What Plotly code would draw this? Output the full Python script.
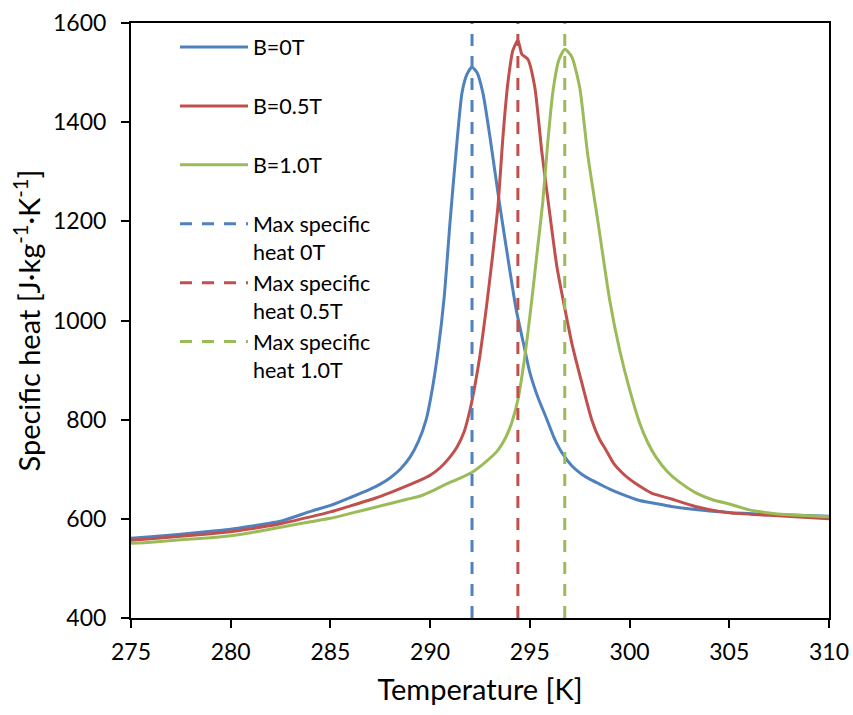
import plotly.graph_objects as go

# ---- data ----
t_b0 = [275, 276, 277.5, 279, 280, 281, 282.5, 284, 285, 286, 287, 287.5, 288, 288.5, 289, 289.4,
        289.8, 290.1, 290.4, 290.7, 291.0, 291.3, 291.6, 291.85, 292.1, 292.35, 292.65, 293.0,
        293.5, 294.0, 294.3, 294.7, 295.0, 295.45, 295.8, 296.2, 296.6, 297.1, 297.6, 298.0,
        298.5, 299.0, 299.6, 300.5, 301.3, 302.1, 303.3, 305, 307, 310]
cp_b0 = [561, 564, 569, 575, 579, 585, 595, 615, 627, 643, 660, 670, 683, 700, 725, 755,
         800, 860, 940, 1045, 1200, 1340, 1460, 1497, 1511, 1500, 1458, 1370,
         1230, 1100, 1025, 950, 895, 840, 806, 765, 734, 707, 690, 680,
         670, 660, 650, 637, 631, 625, 619, 613, 609, 605]

t_b05 = [275, 276, 277.5, 279, 280, 281, 282.5, 284, 285, 286, 287.2, 288, 288.8, 289.5, 290.0,
         290.5, 291.0, 291.35, 291.7, 292.0, 292.25, 292.5, 292.8, 293.1, 293.4, 293.65, 293.9,
         294.15, 294.4, 294.6, 294.9, 295.25, 295.6, 296.0, 296.35, 296.7, 297.1, 297.6, 298.1,
         298.5, 298.8, 299.2, 299.6, 300.0, 300.5, 301.1, 302.1, 303.3, 305, 307, 310]
cp_b05 = [557, 560, 565, 570, 574, 580, 590, 604, 614, 626, 641, 653, 666, 678, 688,
          703, 725, 745, 775, 820, 870, 930, 1020, 1120, 1230, 1370, 1480,
          1545, 1565, 1537, 1527, 1470, 1340, 1215, 1110, 1035, 955, 875, 800,
          760, 740, 712, 694, 680, 666, 652, 640, 625, 612, 607, 600]

t_b10 = [275, 276, 277.5, 279, 280, 281, 282.5, 284, 285, 286, 287.2, 288, 288.8, 289.5, 290.2,
         290.8, 291.5, 292.1, 292.7, 293.35, 293.8, 294.1, 294.4, 294.65, 294.9, 295.15, 295.4,
         295.65, 295.9, 296.15, 296.45, 296.75, 297.1, 297.5, 297.9, 298.4, 299.0, 299.5, 300.0,
         300.5, 300.9, 301.3, 301.9, 302.5, 303.3, 304.2, 305, 306, 306.8, 308, 310]
cp_b10 = [551, 553, 558, 562, 566, 572, 583, 594, 601, 611, 623, 631, 639, 646, 658,
          670, 682, 694, 712, 736, 765, 795, 840, 900, 975, 1060, 1150,
          1240, 1360, 1460, 1525, 1547, 1532, 1470, 1335, 1203, 1042, 941, 861,
          794, 755, 726, 695, 674, 653, 638, 630, 618, 613, 608, 604]

t_max = [292.1, 294.4, 296.75]
cp_range = [400, 1600]

names_solid = ["B=0T", "B=0.5T", "B=1.0T"]
names_dash = ["Max specific<br>heat 0T", "Max specific<br>heat 0.5T", "Max specific<br>heat 1.0T"]
colors = ["#4F81BD", "#C0504D", "#9BBB59"]

FONT = "Lato"

fig = go.Figure()
for i, (t, cp) in enumerate([(t_b0, cp_b0), (t_b05, cp_b05), (t_b10, cp_b10)]):
    fig.add_trace(go.Scatter(
        x=t, y=cp, mode="lines", name=names_solid[i] + "<br>&nbsp;",
        line=dict(color=colors[i], width=3, shape="spline", smoothing=0.6),
    ))
for i in range(3):
    fig.add_trace(go.Scatter(
        x=[t_max[i], t_max[i]], y=cp_range, mode="lines", name=names_dash[i],
        line=dict(color=colors[i], width=3, dash="12px,10px"),
    ))

fig.update_layout(
    width=853, height=715,
    margin=dict(l=131, r=24, t=23, b=97, autoexpand=False),
    paper_bgcolor="white", plot_bgcolor="white",
    font=dict(family=FONT, size=23, color="black"),
    showlegend=True,
    legend=dict(
        x=0.063, y=0.994, xanchor="left", yanchor="top",
        bgcolor="rgba(255,255,255,0)",
        font=dict(family=FONT, size=21.5, color="black"),
        valign="top", itemwidth=68,
    ),
    xaxis=dict(
        range=[275, 310], dtick=5, tick0=275, automargin=False,
        showgrid=False, zeroline=False,
        showline=True, linecolor="black", linewidth=2, mirror=True,
        ticks="outside", ticklen=8, tickwidth=2, tickcolor="black",
        tickfont=dict(family=FONT, size=23), ticklabelstandoff=4,
        title=dict(text="Temperature [K]", font=dict(family=FONT, size=29), standoff=16),
    ),
    yaxis=dict(
        range=[400, 1600], dtick=200, tick0=400, automargin=False,
        showgrid=False, zeroline=False,
        showline=True, linecolor="black", linewidth=2, mirror=True,
        ticks="outside", ticklen=8, tickwidth=2, tickcolor="black",
        tickfont=dict(family=FONT, size=23), ticklabelstandoff=10,
        title=dict(text="Specific heat [J·kg<sup>-1</sup>·K<sup>-1</sup>]",
                   font=dict(family=FONT, size=29), standoff=4),
    ),
)

fig.write_html("out.html")
